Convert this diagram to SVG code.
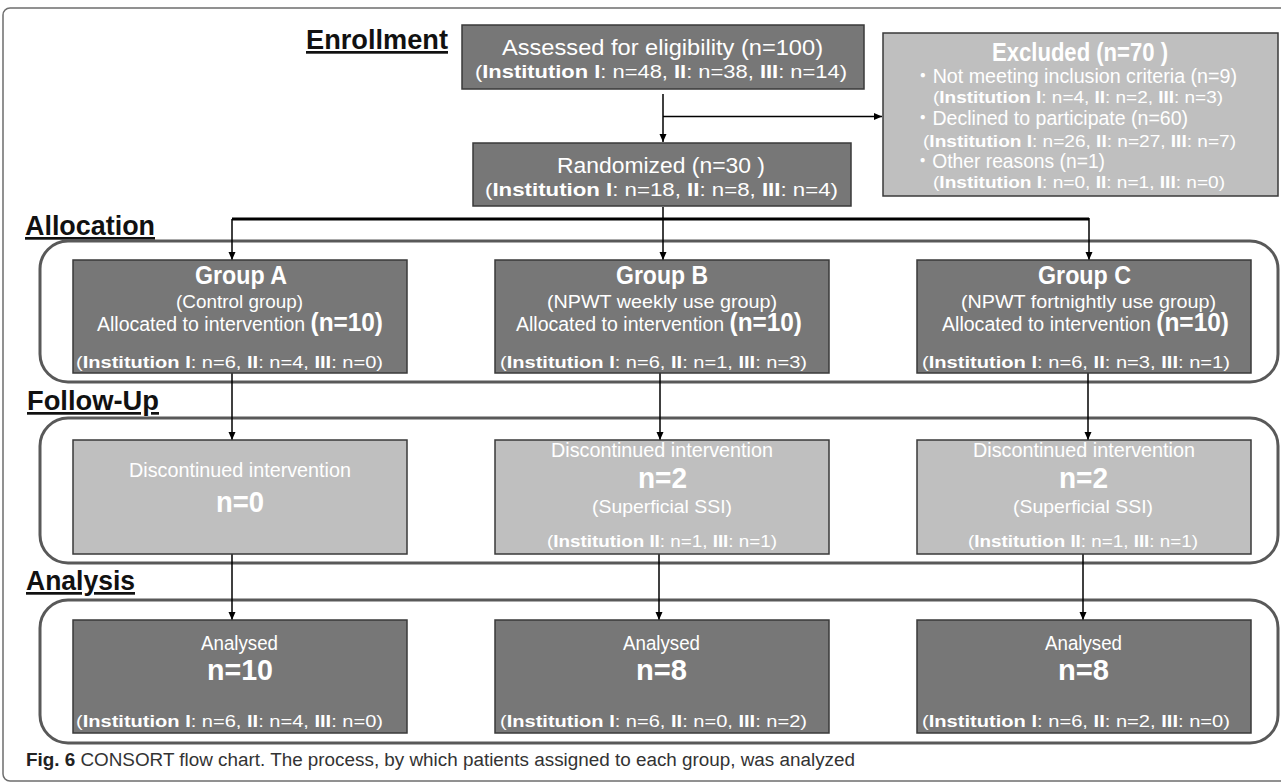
<svg xmlns="http://www.w3.org/2000/svg" width="1281" height="782" viewBox="0 0 1281 782">
<defs>
<style>
text{font-family:"Liberation Sans",Arial,"Noto Sans CJK JP",sans-serif;}
.dk{fill:#777777;stroke:#3a3a3a;stroke-width:1.5;}
.lt{fill:#bfbfbf;stroke:#3a3a3a;stroke-width:1.5;}
.ct{fill:none;stroke:#595959;stroke-width:3;}
.w{fill:#ffffff;}
.b{font-weight:bold;}
.lbl{font-size:27px;font-weight:bold;fill:#111;text-decoration:underline;}
.ln{fill:none;stroke:#000;stroke-width:1.5;}
</style>
<marker id="ah" markerWidth="8" markerHeight="8" refX="8" refY="4" orient="auto" markerUnits="userSpaceOnUse"><path d="M0,0.5 L8,4 L0,7.5 z" fill="#000"/></marker>
</defs>
<rect width="1281" height="782" fill="#fff"/>
<rect x="3" y="8" width="1290" height="773" rx="7" fill="none" stroke="#6e6e6e" stroke-width="1.5"/>

<g id="labels">
<text class="lbl" x="306" y="49" textLength="142" lengthAdjust="spacingAndGlyphs">Enrollment</text>
<text class="lbl" x="25" y="235" textLength="130" lengthAdjust="spacingAndGlyphs">Allocation</text>
<text class="lbl" x="27" y="410" textLength="132" lengthAdjust="spacingAndGlyphs">Follow-Up</text>
<text class="lbl" x="26" y="590" textLength="109" lengthAdjust="spacingAndGlyphs">Analysis</text>
</g>

<g id="containers">
<rect class="ct" x="40" y="241" width="1238" height="141" rx="28"/>
<rect class="ct" x="40" y="418" width="1238" height="145" rx="28"/>
<rect class="ct" x="40" y="600" width="1238" height="143" rx="28"/>
</g>

<g id="connectors">
<path class="ln" d="M663,94 V142" marker-end="url(#ah)"/>
<path class="ln" d="M663,116.5 H882" marker-end="url(#ah)"/>
<path class="ln" d="M663,207 V219"/>
<path d="M232,219 H1089" fill="none" stroke="#000" stroke-width="3"/>
<path class="ln" d="M232,219 V260" marker-end="url(#ah)"/>
<path class="ln" d="M663,219 V260" marker-end="url(#ah)"/>
<path class="ln" d="M1089,218 V260" marker-end="url(#ah)"/>
<path class="ln" d="M232,373 V440" marker-end="url(#ah)"/>
<path class="ln" d="M660,373 V440" marker-end="url(#ah)"/>
<path class="ln" d="M1088,373 V440" marker-end="url(#ah)"/>
<path class="ln" d="M232,554 V620" marker-end="url(#ah)"/>
<path class="ln" d="M659,554 V620" marker-end="url(#ah)"/>
<path class="ln" d="M1083,554 V620" marker-end="url(#ah)"/>
</g>

<g id="assessed">
<rect class="dk" x="462" y="25" width="402" height="64"/>
<text class="w" x="502" y="55" font-size="22" textLength="321" lengthAdjust="spacingAndGlyphs">Assessed for eligibility (n=100)</text>
<text class="w" x="475" y="78" font-size="19" textLength="372" lengthAdjust="spacingAndGlyphs">(<tspan class="b">Institution I</tspan>: n=48, <tspan class="b">II</tspan>: n=38, <tspan class="b">III</tspan>: n=14)</text>
</g>

<g id="excluded">
<rect class="lt" x="883" y="33" width="395" height="163"/>
<text class="w b" x="992" y="61" font-size="25" textLength="176" lengthAdjust="spacingAndGlyphs">Excluded (n=70 )</text>
<text class="w" x="913" y="83" font-size="20" textLength="324" lengthAdjust="spacingAndGlyphs">・Not meeting inclusion criteria (n=9)</text>
<text class="w" x="933" y="103" font-size="17" textLength="290" lengthAdjust="spacingAndGlyphs">(<tspan class="b">Institution I</tspan>: n=4, <tspan class="b">II</tspan>: n=2, <tspan class="b">III</tspan>: n=3)</text>
<text class="w" x="913" y="125" font-size="20" textLength="275" lengthAdjust="spacingAndGlyphs">・Declined to participate (n=60)</text>
<text class="w" x="923" y="147" font-size="17" textLength="313" lengthAdjust="spacingAndGlyphs">(<tspan class="b">Institution I</tspan>: n=26, <tspan class="b">II</tspan>: n=27, <tspan class="b">III</tspan>: n=7)</text>
<text class="w" x="913" y="168" font-size="20" textLength="192" lengthAdjust="spacingAndGlyphs">・Other reasons (n=1)</text>
<text class="w" x="933" y="188" font-size="17" textLength="292" lengthAdjust="spacingAndGlyphs">(<tspan class="b">Institution I</tspan>: n=0, <tspan class="b">II</tspan>: n=1, <tspan class="b">III</tspan>: n=0)</text>
</g>

<g id="randomized">
<rect class="dk" x="473" y="143" width="378" height="63"/>
<text class="w" x="557" y="173" font-size="22" textLength="208" lengthAdjust="spacingAndGlyphs">Randomized (n=30 )</text>
<text class="w" x="485" y="196" font-size="19" textLength="353" lengthAdjust="spacingAndGlyphs">(<tspan class="b">Institution I</tspan>: n=18, <tspan class="b">II</tspan>: n=8, <tspan class="b">III</tspan>: n=4)</text>
</g>

<g id="groupA">
<rect class="dk" x="73" y="260" width="334" height="113"/>
<text class="w b" x="195" y="284" font-size="25" textLength="92" lengthAdjust="spacingAndGlyphs">Group A</text>
<text class="w" x="176" y="308" font-size="19" textLength="127" lengthAdjust="spacingAndGlyphs">(Control group)</text>
<text class="w" x="97" y="331" font-size="20" textLength="286" lengthAdjust="spacingAndGlyphs">Allocated to intervention <tspan class="b" font-size="25">(n=10)</tspan></text>
<text class="w" x="76" y="368" font-size="17" textLength="307" lengthAdjust="spacingAndGlyphs">(<tspan class="b">Institution I</tspan>: n=6, <tspan class="b">II</tspan>: n=4, <tspan class="b">III</tspan>: n=0)</text>
</g>

<g id="groupB">
<rect class="dk" x="495" y="260" width="334" height="113"/>
<text class="w b" x="616" y="284" font-size="25" textLength="92" lengthAdjust="spacingAndGlyphs">Group B</text>
<text class="w" x="547" y="308" font-size="19" textLength="230" lengthAdjust="spacingAndGlyphs">(NPWT weekly use group)</text>
<text class="w" x="516" y="331" font-size="20" textLength="286" lengthAdjust="spacingAndGlyphs">Allocated to intervention <tspan class="b" font-size="25">(n=10)</tspan></text>
<text class="w" x="500" y="368" font-size="17" textLength="307" lengthAdjust="spacingAndGlyphs">(<tspan class="b">Institution I</tspan>: n=6, <tspan class="b">II</tspan>: n=1, <tspan class="b">III</tspan>: n=3)</text>
</g>

<g id="groupC">
<rect class="dk" x="917" y="260" width="334" height="113"/>
<text class="w b" x="1038" y="284" font-size="25" textLength="93" lengthAdjust="spacingAndGlyphs">Group C</text>
<text class="w" x="961" y="308" font-size="19" textLength="255" lengthAdjust="spacingAndGlyphs">(NPWT fortnightly use group)</text>
<text class="w" x="942" y="331" font-size="20" textLength="287" lengthAdjust="spacingAndGlyphs">Allocated to intervention <tspan class="b" font-size="25">(n=10)</tspan></text>
<text class="w" x="922" y="368" font-size="17" textLength="308" lengthAdjust="spacingAndGlyphs">(<tspan class="b">Institution I</tspan>: n=6, <tspan class="b">II</tspan>: n=3, <tspan class="b">III</tspan>: n=1)</text>
</g>

<g id="followA">
<rect class="lt" x="73" y="440" width="334" height="114"/>
<text class="w" x="129" y="477" font-size="20" textLength="222" lengthAdjust="spacingAndGlyphs">Discontinued intervention</text>
<text class="w b" x="216" y="512" font-size="30" textLength="48" lengthAdjust="spacingAndGlyphs">n=0</text>
</g>

<g id="followB">
<rect class="lt" x="495" y="440" width="334" height="114"/>
<text class="w" x="551" y="457" font-size="20" textLength="222" lengthAdjust="spacingAndGlyphs">Discontinued intervention</text>
<text class="w b" x="638" y="488" font-size="30" textLength="49" lengthAdjust="spacingAndGlyphs">n=2</text>
<text class="w" x="592" y="513" font-size="19" textLength="140" lengthAdjust="spacingAndGlyphs">(Superficial SSI)</text>
<text class="w" x="547" y="547" font-size="17" textLength="230" lengthAdjust="spacingAndGlyphs">(<tspan class="b">Institution II</tspan>: n=1, <tspan class="b">III</tspan>: n=1)</text>
</g>

<g id="followC">
<rect class="lt" x="917" y="440" width="334" height="114"/>
<text class="w" x="973" y="457" font-size="20" textLength="222" lengthAdjust="spacingAndGlyphs">Discontinued intervention</text>
<text class="w b" x="1059" y="488" font-size="30" textLength="49" lengthAdjust="spacingAndGlyphs">n=2</text>
<text class="w" x="1013" y="513" font-size="19" textLength="140" lengthAdjust="spacingAndGlyphs">(Superficial SSI)</text>
<text class="w" x="968" y="547" font-size="17" textLength="230" lengthAdjust="spacingAndGlyphs">(<tspan class="b">Institution II</tspan>: n=1, <tspan class="b">III</tspan>: n=1)</text>
</g>

<g id="analysisA">
<rect class="dk" x="73" y="620" width="334" height="113"/>
<text class="w" x="201" y="650" font-size="20" textLength="77" lengthAdjust="spacingAndGlyphs">Analysed</text>
<text class="w b" x="207" y="680" font-size="30" textLength="66" lengthAdjust="spacingAndGlyphs">n=10</text>
<text class="w" x="76" y="727" font-size="17" textLength="307" lengthAdjust="spacingAndGlyphs">(<tspan class="b">Institution I</tspan>: n=6, <tspan class="b">II</tspan>: n=4, <tspan class="b">III</tspan>: n=0)</text>
</g>

<g id="analysisB">
<rect class="dk" x="495" y="620" width="334" height="113"/>
<text class="w" x="623" y="650" font-size="20" textLength="77" lengthAdjust="spacingAndGlyphs">Analysed</text>
<text class="w b" x="636" y="680" font-size="30" textLength="51" lengthAdjust="spacingAndGlyphs">n=8</text>
<text class="w" x="500" y="727" font-size="17" textLength="307" lengthAdjust="spacingAndGlyphs">(<tspan class="b">Institution I</tspan>: n=6, <tspan class="b">II</tspan>: n=0, <tspan class="b">III</tspan>: n=2)</text>
</g>

<g id="analysisC">
<rect class="dk" x="917" y="620" width="334" height="113"/>
<text class="w" x="1045" y="650" font-size="20" textLength="77" lengthAdjust="spacingAndGlyphs">Analysed</text>
<text class="w b" x="1058" y="680" font-size="30" textLength="51" lengthAdjust="spacingAndGlyphs">n=8</text>
<text class="w" x="922" y="727" font-size="17" textLength="308" lengthAdjust="spacingAndGlyphs">(<tspan class="b">Institution I</tspan>: n=6, <tspan class="b">II</tspan>: n=2, <tspan class="b">III</tspan>: n=0)</text>
</g>

<g id="caption">
<text x="26" y="766" font-size="18" fill="#333" textLength="829" lengthAdjust="spacingAndGlyphs"><tspan class="b" fill="#222">Fig. 6</tspan>  CONSORT flow chart. The process, by which patients assigned to each group, was analyzed</text>
</g>
</svg>
